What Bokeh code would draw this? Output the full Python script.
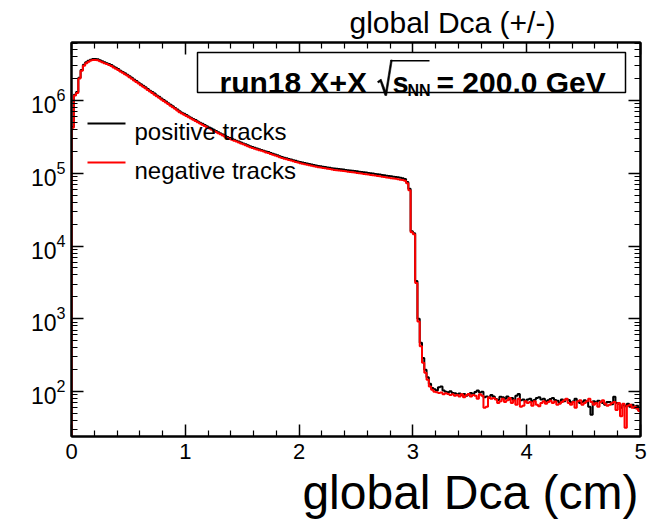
import numpy as np
from bokeh.plotting import figure
from bokeh.models import (Label, BoxAnnotation, PolyAnnotation, LinearAxis, LogAxis,
                          FixedTicker, Title)
from bokeh.embed import file_html
from bokeh.resources import INLINE

# ---------------- data ----------------
x_min, x_max = 0.0, 5.0
n_bins = 250

positive = [
    4.3e5, 1.2e6, 1.3e6, 2.05e6, 2.62e6, 3.08e6, 3.34e6, 3.5e6, 3.62e6, 3.69e6,
    3.7e6, 3.66e6, 3.55e6, 3.45e6, 3.35e6, 3.25e6, 3.16e6, 3.06e6, 2.93e6, 2.80e6,
    2.69e6, 2.56e6, 2.46e6, 2.36e6, 2.25e6, 2.14e6, 2.04e6, 1.94e6, 1.84e6, 1.75e6,
    1.67e6, 1.59e6, 1.51e6, 1.43e6, 1.36e6, 1.30e6, 1.24e6, 1.17e6, 1.12e6, 1.06e6,
    1.01e6, 9.63e5, 9.16e5, 8.70e5, 8.28e5, 7.88e5, 7.50e5, 7.10e5, 6.79e5, 6.53e5,
    6.28e5, 6.03e5, 5.79e5, 5.57e5, 5.36e5, 5.15e5, 4.94e5, 4.76e5, 4.58e5, 4.42e5,
    4.25e5, 4.09e5, 3.94e5, 3.79e5, 3.66e5, 3.52e5, 3.39e5, 3.27e5, 3.14e5, 3.05e5,
    2.97e5, 2.88e5, 2.80e5, 2.72e5, 2.64e5, 2.56e5, 2.49e5, 2.42e5, 2.35e5, 2.29e5,
    2.24e5, 2.18e5, 2.13e5, 2.09e5, 2.04e5, 1.99e5, 1.95e5, 1.90e5, 1.85e5, 1.80e5,
    1.76e5, 1.71e5, 1.67e5, 1.63e5, 1.60e5, 1.57e5, 1.54e5, 1.51e5, 1.48e5, 1.45e5,
    1.42e5, 1.40e5, 1.38e5, 1.36e5, 1.34e5, 1.32e5, 1.30e5, 1.28e5, 1.26e5, 1.25e5,
    1.23e5, 1.22e5, 1.20e5, 1.19e5, 1.17e5, 1.16e5, 1.15e5, 1.14e5, 1.13e5, 1.12e5,
    1.11e5, 1.10e5, 1.09e5, 1.08e5, 1.07e5, 1.06e5, 1.05e5, 1.04e5, 1.03e5, 1.02e5,
    1.01e5, 1.00e5, 9.88e4, 9.78e4, 9.67e4, 9.57e4, 9.47e4, 9.36e4, 9.26e4, 9.16e4,
    9.06e4, 8.96e4, 8.87e4, 8.77e4, 8.66e4, 8.55e4, 8.30e4, 7.6e4, 6.1e4, 1.6e4,
    1.5e4, 3.3e3, 1.0e3, 470, 290, 200, 158, 128, 112, 108,
    104, 115, 118, 104, 100, 98, 101, 96, 95, 92,
    94, 90, 93, 88, 91, 96, 92, 99, 104, 97,
    100, 84, 86, 82, 90, 86, 79, 77, 85, 84,
    80, 86, 78, 82, 76, 88, 93, 76, 78, 74,
    78, 80, 74, 77, 82, 84, 78, 80, 73, 76,
    79, 82, 77, 75, 70, 78, 74, 79, 77, 71,
    73, 80, 74, 70, 72, 76, 73, 62, 48, 74,
    71, 75, 73, 70, 66, 72, 72, 67, 85, 70,
    68, 60, 66, 63, 68, 62, 66, 60, 64, 55,
]

negative = [
    4.2e5, 1.17e6, 1.26e6, 2.0e6, 2.55e6, 3.0e6, 3.25e6, 3.4e6, 3.52e6, 3.59e6,
    3.6e6, 3.56e6, 3.45e6, 3.35e6, 3.25e6, 3.16e6, 3.07e6, 2.97e6, 2.84e6, 2.72e6,
    2.61e6, 2.49e6, 2.39e6, 2.29e6, 2.19e6, 2.08e6, 1.98e6, 1.88e6, 1.79e6, 1.70e6,
    1.62e6, 1.54e6, 1.47e6, 1.39e6, 1.32e6, 1.26e6, 1.20e6, 1.14e6, 1.09e6, 1.03e6,
    9.84e5, 9.35e5, 8.89e5, 8.45e5, 8.04e5, 7.65e5, 7.28e5, 6.89e5, 6.59e5, 6.34e5,
    6.10e5, 5.85e5, 5.62e5, 5.41e5, 5.20e5, 5.00e5, 4.80e5, 4.62e5, 4.45e5, 4.29e5,
    4.13e5, 3.97e5, 3.83e5, 3.68e5, 3.55e5, 3.42e5, 3.29e5, 3.17e5, 3.05e5, 2.96e5,
    2.88e5, 2.80e5, 2.72e5, 2.64e5, 2.56e5, 2.49e5, 2.42e5, 2.35e5, 2.28e5, 2.22e5,
    2.17e5, 2.12e5, 2.07e5, 2.03e5, 1.98e5, 1.93e5, 1.89e5, 1.84e5, 1.79e5, 1.75e5,
    1.71e5, 1.66e5, 1.62e5, 1.58e5, 1.55e5, 1.52e5, 1.49e5, 1.46e5, 1.43e5, 1.40e5,
    1.37e5, 1.35e5, 1.33e5, 1.31e5, 1.29e5, 1.27e5, 1.25e5, 1.23e5, 1.21e5, 1.20e5,
    1.18e5, 1.17e5, 1.15e5, 1.14e5, 1.12e5, 1.11e5, 1.10e5, 1.09e5, 1.08e5, 1.07e5,
    1.06e5, 1.05e5, 1.04e5, 1.03e5, 1.02e5, 1.01e5, 1.00e5, 9.89e4, 9.78e4, 9.67e4,
    9.57e4, 9.46e4, 9.36e4, 9.27e4, 9.16e4, 9.06e4, 8.97e4, 8.85e4, 8.75e4, 8.65e4,
    8.55e4, 8.45e4, 8.36e4, 8.26e4, 8.15e4, 8.05e4, 7.85e4, 7.3e4, 5.85e4, 1.55e4,
    1.45e4, 3.1e3, 920, 420, 250, 182, 146, 118, 106, 100,
    98, 96, 97, 92, 95, 93, 90, 92, 88, 90,
    86, 92, 84, 89, 93, 86, 90, 88, 80, 92,
    88, 60, 62, 84, 80, 82, 78, 70, 74, 80,
    72, 76, 82, 70, 76, 66, 80, 62, 64, 74,
    70, 72, 64, 74, 66, 63, 70, 74, 68, 72,
    75, 70, 73, 66, 68, 72, 76, 80, 70, 66,
    72, 60, 74, 76, 66, 70, 74, 80, 72, 66,
    70, 62, 72, 76, 68, 64, 66, 70, 72, 56,
    70, 46, 68, 32, 64, 66, 60, 62, 58, 54,
]

x_ticks = [0, 1, 2, 3, 4, 5]
x_minor_ticks = [0.2, 0.4, 0.6, 0.8, 1.2, 1.4, 1.6, 1.8, 2.2, 2.4, 2.6, 2.8,
                 3.2, 3.4, 3.6, 3.8, 4.2, 4.4, 4.6, 4.8]
y_ticks = [1e2, 1e3, 1e4, 1e5, 1e6]
y_minor_ticks = [m * 10 ** e for e in range(1, 7) for m in range(2, 10)]

title_text = "global Dca (+/-)"
x_label = "global Dca (cm)"
series_names = ["positive tracks", "negative tracks"]
series_colors = ["#000000", "#ff0000"]

# ---------------- figure ----------------
FONT = "Liberation Sans"
L, R, T, B = 71, 29, 42, 87
W, H = 669, 524

p = figure(width=W, height=H, x_range=(x_min, x_max), y_range=(24.2, 6.24e6),
           y_axis_type="log", output_backend="svg", toolbar_location=None,
           min_border_left=L, min_border_right=R, min_border_top=T, min_border_bottom=B)
p.background_fill_color = "white"
p.border_fill_color = "white"
p.outline_line_color = "black"
p.outline_line_width = 2
p.grid.visible = False


def style_axis(ax, show_labels, size="23px"):
    ax.axis_line_width = 2
    ax.axis_line_color = "black"
    ax.major_tick_in = 12
    ax.major_tick_out = 0
    ax.minor_tick_in = 6
    ax.minor_tick_out = 0
    ax.major_tick_line_width = 1.5
    ax.minor_tick_line_width = 1.2
    ax.major_tick_line_color = "black"
    ax.minor_tick_line_color = "black"
    ax.major_label_text_font = FONT
    ax.major_label_text_color = "black"
    if show_labels:
        ax.major_label_text_font_size = size
    else:
        ax.major_label_text_font_size = "0px"
        ax.major_label_text_alpha = 0
        ax.major_label_standoff = 0


p.xaxis.ticker = FixedTicker(ticks=x_ticks, minor_ticks=x_minor_ticks)
p.yaxis.ticker = FixedTicker(ticks=y_ticks, minor_ticks=y_minor_ticks)
style_axis(p.xaxis[0], True, "22px")
style_axis(p.yaxis[0], True, "23px")
p.xaxis.major_label_standoff = 7
p.yaxis.major_label_standoff = 6

top_axis = LinearAxis(ticker=FixedTicker(ticks=x_ticks, minor_ticks=x_minor_ticks))
style_axis(top_axis, False)
p.add_layout(top_axis, "above")
right_axis = LogAxis(ticker=FixedTicker(ticks=y_ticks, minor_ticks=y_minor_ticks))
style_axis(right_axis, False)
p.add_layout(right_axis, "right")

# titles in the side panels (not clipped by the frame)
p.add_layout(Title(text=title_text, align="left", offset=278, vertical_align="top",
                   standoff=4, text_font=FONT, text_font_size="30px",
                   text_font_style="normal", text_color="black"), "above")
p.add_layout(Title(text=x_label, align="right", offset=2, vertical_align="top",
                   standoff=8, text_line_height=0.85, text_font=FONT,
                   text_font_size="48px", text_font_style="normal",
                   text_color="black"), "below")

# ---------------- histograms as steps ----------------
edges = np.linspace(x_min, x_max, n_bins + 1)
for vals, color in zip([positive, negative], series_colors):
    v = np.asarray(vals, dtype=float)
    xs = np.concatenate([[edges[0]], np.repeat(edges, 2)[1:-1]])
    ys = np.concatenate([[1.0], np.repeat(v, 2)])
    p.line(xs, ys, line_color=color, line_width=2)


# ---------------- texts inside the frame (screen units relative to the frame) ----
def sx(X):
    return X - L


def sy(Y):
    return (H - B) - Y


def screen_box(left, right, top, bottom, **kw):
    return BoxAnnotation(left=sx(left), right=sx(right), top=sy(top), bottom=sy(bottom),
                         left_units="screen", right_units="screen",
                         top_units="screen", bottom_units="screen", **kw)


# header box
p.add_layout(screen_box(197, 625, 53, 93, fill_color="white", fill_alpha=1.0,
                        line_color="black", line_width=1.5, line_alpha=1.0))
hdr = dict(x_units="screen", y_units="screen", text_baseline="alphabetic",
           text_font=FONT, text_font_style="bold", text_color="black")
p.add_layout(Label(x=sx(219), y=sy(83), text="run18 X+X", text_font_size="30px", **hdr))

# square-root sign drawn as a thin stroke outline, with its overline
rad_x = [377.0, 380.6, 385.2, 390.2, 391.8, 386.2, 384.4, 379.8, 377.8]
rad_y = [82.0, 79.6, 91.5, 60.5, 60.5, 96.0, 96.0, 82.2, 83.4]
p.add_layout(PolyAnnotation(xs=[sx(v) for v in rad_x], ys=[sy(v) for v in rad_y],
                            xs_units="screen", ys_units="screen",
                            fill_color="black", fill_alpha=1.0,
                            line_color="black", line_width=0.6, line_alpha=1.0))
p.add_layout(screen_box(390, 429, 60.5, 62, fill_color="black", fill_alpha=1.0, line_alpha=0))
p.add_layout(Label(x=sx(392), y=sy(83), text="s", text_font_size="29px", **hdr))
p.add_layout(Label(x=sx(407), y=sy(91), text="NN", text_font_size="16px", **hdr))
p.add_layout(Label(x=sx(436), y=sy(83), text="= 200.0 GeV", text_font_size="30px", **hdr))

# legend
for i, (name, color) in enumerate(zip(series_names, series_colors)):
    yc = 124 + 39 * i
    p.add_layout(screen_box(87, 125, yc - 1, yc + 1, fill_color=color, fill_alpha=1.0,
                            line_alpha=0))
    p.add_layout(Label(x=sx(134), y=sy(yc + 8), x_units="screen", y_units="screen",
                       text=name, text_baseline="alphabetic", text_font=FONT,
                       text_font_size="24px", text_color="black"))

open("out.html", "w").write(file_html(p, INLINE))
